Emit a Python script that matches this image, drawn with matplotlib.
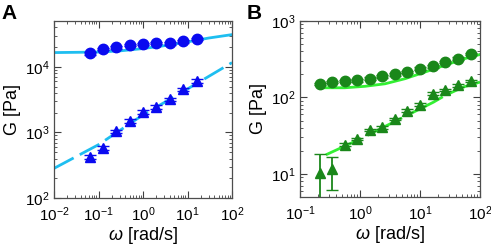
import matplotlib
matplotlib.use("Agg")
import matplotlib.pyplot as plt
from matplotlib.ticker import LogLocator, NullFormatter

plt.rcParams['font.family'] = ['Liberation Sans', 'DejaVu Sans']
plt.rcParams['mathtext.fontset'] = 'custom'
plt.rcParams['mathtext.rm'] = 'Liberation Sans'
plt.rcParams['mathtext.it'] = 'Liberation Sans:italic'

# panel A data
w_a = [0.063, 0.126, 0.25, 0.5, 1.0, 2.0, 4.0, 8.0, 16.0]
gp_a = [1.6e4, 1.87e4, 1.98e4, 2.16e4, 2.24e4, 2.32e4, 2.28e4, 2.45e4, 2.67e4]
gp_a_err = [800, 900, 900, 1000, 1000, 1100, 1100, 1200, 1300]
gpp_a = [428, 588, 1035, 1476, 2032, 2427, 3184, 4540, 6095]
gpp_a_err = [30, 40, 70, 100, 140, 170, 220, 300, 400]
# panel A fits
fit_w_a = [0.01, 0.1, 0.3, 1.0, 3.0, 10.0, 30.0, 100.0]
fit_gp_a = [1.65e4, 1.68e4, 1.75e4, 1.9e4, 2.1e4, 2.4e4, 2.75e4, 3.1e4]
fit_w_a2 = [0.01, 0.1, 1.0, 10.0, 100.0]
fit_gpp_a = [283, 650, 1850, 4600, 1.16e4]

# panel B data
w_b = [0.215, 0.346, 0.562, 0.904, 1.47, 2.36, 3.83, 6.15, 10.0, 16.7, 26.1, 42.5, 70.8]
gp_b = [151, 159, 164, 167, 176, 189, 201, 215, 239, 256, 291, 323, 368]
gp_b_err = [6, 6, 6, 6, 7, 7, 8, 8, 9, 10, 11, 12, 14]
gpp_b = [10.4, 11.5, 24.1, 28.6, 37.6, 40.7, 52.5, 67.5, 80.9, 112, 126, 144, 164]
gpp_b_lo = [6.0, 5.4, 1.0, 1.2, 1.5, 1.6, 2.0, 2.6, 3.1, 4.3, 4.8, 5.5, 6.3]
gpp_b_hi = [8.1, 5.2, 1.0, 1.2, 1.5, 1.6, 2.0, 2.6, 3.1, 4.3, 4.8, 5.5, 6.3]
# panel B fits
fit_w_b = [0.26, 0.56, 1.21, 2.61, 5.62, 12.1, 26.1, 56.2, 100.0]
fit_gp_b = [134, 134, 140, 151, 176, 215, 264, 323, 365]
fit_w_b2 = [0.27, 1.0, 4.64, 16.7, 26.0, 52.7, 100.0]
fit_gpp_b = [17.8, 28.6, 52.5, 86.7, 106, 137, 159]

fig = plt.figure(figsize=(4.91, 2.5), dpi=100)
ax1 = fig.add_axes([0.110, 0.208, 0.3625, 0.708])
ax2 = fig.add_axes([0.611, 0.212, 0.3666, 0.704])

blue = '#0a0af0'
cyan = '#1ebef0'
dgreen = '#1a871a'
lgreen = '#33f033'

ax1.plot(fit_w_a, fit_gp_a, '-', color=cyan, lw=2)
ax1.plot(fit_w_a2, fit_gpp_a, color=cyan, lw=2, dashes=(8, 2.5))
ax1.errorbar(w_a, gp_a, yerr=gp_a_err, fmt='o', color=blue, ms=7.5, capsize=4, elinewidth=1)
ax1.errorbar(w_a, gpp_a, yerr=gpp_a_err, fmt='^', color=blue, ms=7.5, capsize=4, elinewidth=1)
ax1.set_xlim(1e-2, 1e2)
ax1.set_ylim(1e2, 5e4)

ax2.plot(fit_w_b, fit_gp_b, '-', color=lgreen, lw=2)
ax2.plot(fit_w_b2, fit_gpp_b, color=lgreen, lw=2, dashes=(14, 2.5))
ax2.errorbar(w_b, gp_b, yerr=gp_b_err, fmt='o', color=dgreen, ms=7.5, capsize=4, elinewidth=1)
ax2.errorbar(w_b, gpp_b, yerr=[gpp_b_lo, gpp_b_hi], fmt='^', color=dgreen, ms=7.5,
             capsize=4, elinewidth=1.3)
ax2.set_xlim(1e-1, 1e2)
ax2.set_ylim(5, 1e3)

for ax in (ax1, ax2):
    ax.set_xscale('log')
    ax.set_yscale('log')
    ax.xaxis.set_major_locator(LogLocator(base=10, numticks=10))
    ax.xaxis.set_minor_locator(LogLocator(base=10, subs=range(2, 10), numticks=10))
    ax.yaxis.set_minor_locator(LogLocator(base=10, subs=range(2, 10), numticks=10))
    ax.yaxis.set_minor_formatter(NullFormatter())
    ax.xaxis.set_minor_formatter(NullFormatter())
    ax.tick_params(which='both', direction='in', top=True, right=True,
                   labelsize=11, color='0.25')
    ax.tick_params(which='major', length=5, width=0.8)
    ax.tick_params(which='minor', length=2.5, width=0.6)
    ax.tick_params(axis='x', which='major', pad=5)
    ax.tick_params(axis='y', which='major', pad=3)
    for s in ax.spines.values():
        s.set_color('0.3')
        s.set_linewidth(0.9)
    ax.set_xlabel(r'$\omega$ [rad/s]', fontsize=13, labelpad=1)
    ax.set_ylabel('G [Pa]', fontsize=13, labelpad=3)

fig.text(0.004, 0.985, 'A', fontsize=15, fontweight='bold', va='top', ha='left')
fig.text(0.503, 0.985, 'B', fontsize=15, fontweight='bold', va='top', ha='left')

fig.savefig('out.png', dpi=100)
